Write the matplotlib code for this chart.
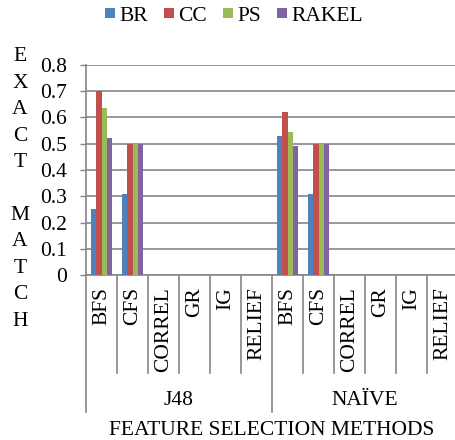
import matplotlib
matplotlib.use("Agg")
import matplotlib.pyplot as plt
import numpy as np
from matplotlib.lines import Line2D
from matplotlib.transforms import blended_transform_factory

categories = ["BFS", "CFS", "CORREL", "GR", "IG", "RELIEF"] * 2
groups = ["J48", "NAÏVE"]
series = ["BR", "CC", "PS", "RAKEL"]
br    = [0.25, 0.31, 0, 0, 0, 0, 0.53, 0.31, 0, 0, 0, 0]
cc    = [0.70, 0.50, 0, 0, 0, 0, 0.62, 0.50, 0, 0, 0, 0]
ps    = [0.635, 0.50, 0, 0, 0, 0, 0.545, 0.50, 0, 0, 0, 0]
rakel = [0.52, 0.50, 0, 0, 0, 0, 0.49, 0.50, 0, 0, 0, 0]
yticks = [0, 0.1, 0.2, 0.3, 0.4, 0.5, 0.6, 0.7, 0.8]
ytick_labels = ["0", "0.1", "0.2", "0.3", "0.4", "0.5", "0.6", "0.7", "0.8"]
colors = ["#4F81BD", "#C0504D", "#9BBB59", "#8064A2"]

plt.rcParams['font.family'] = ['Liberation Serif', 'DejaVu Serif']
FS = 15.5
W, H = 455, 440
fig = plt.figure(figsize=(W / 100, H / 100), dpi=100)
ax = fig.add_axes([86 / W, 1 - 275 / H, (458 - 86) / W, (275 - 65) / H])

x = np.arange(len(categories))
bw = 0.176
for i, (vals, c) in enumerate(zip([br, cc, ps, rakel], colors)):
    ax.bar(x + (i - 1.5) * bw, vals, width=bw, color=c, zorder=3)

ax.set_xlim(-0.5, len(categories) - 0.5)
ax.set_ylim(0, 0.8)
ax.set_yticks(yticks)
ax.set_yticklabels(ytick_labels, fontsize=FS)
ax.yaxis.grid(True, color="#868686", linewidth=1.2, zorder=0)
ax.set_axisbelow(True)
ax.tick_params(axis='y', length=4.5, width=1, color="#868686", pad=9)
ax.set_xticks([])
for s in ["top", "right"]:
    ax.spines[s].set_visible(False)
for s in ["left", "bottom"]:
    ax.spines[s].set_color("#868686")
    ax.spines[s].set_linewidth(1.2)

trans = blended_transform_factory(ax.transData, fig.transFigure)
y_axis = 1 - 275 / H
y_minor = 1 - 373 / H
y_major = 1 - 412 / H
for k in range(len(categories) + 1):
    xs = k - 0.5
    yb = y_major if k % 6 == 0 else y_minor
    ax.plot([xs, xs], [y_axis, yb], transform=trans, color="#868686",
            linewidth=1.2, clip_on=False)

for xi, lab in zip(x, categories):
    ax.text(xi, 1 - 287 / H, lab, transform=trans, rotation=90, ha='center',
            va='top', fontsize=FS)

for gi, g in enumerate(groups):
    ax.text(gi * 6 + 2.5, 1 - 400 / H, g, transform=trans, ha='center',
            va='center', fontsize=FS)

ax.text(5.5, 1 - 430 / H, "FEATURE SELECTION METHODS", transform=trans,
        ha='center', va='center', fontsize=FS)

fig.text(20 / W, 1 - 189 / H, "\n".join(list("EXACT") + [""] + list("MATCH")),
         ha='center', va='center', fontsize=FS, linespacing=1.53)

handles = [Line2D([], [], marker='s', linestyle='none', markersize=7.5,
                  markerfacecolor=c, markeredgewidth=0) for c in colors]
fig.legend(handles, series, loc='center', bbox_to_anchor=(234 / W, 1 - 16 / H),
           ncol=4, frameon=False, fontsize=FS, handlelength=0.45,
           handletextpad=0.2, columnspacing=0.75,
           borderpad=0, borderaxespad=0)

fig.savefig("out.png", dpi=100)
